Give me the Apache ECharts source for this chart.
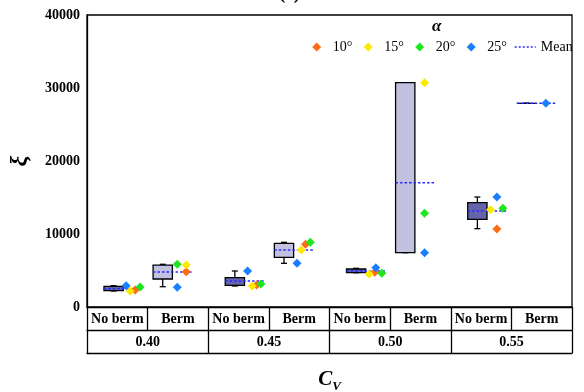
<!DOCTYPE html>
<html>
<head>
<meta charset="utf-8">
<script src="https://cdn.jsdelivr.net/npm/echarts@6/dist/echarts.min.js"></script>
<style>
  html, body { margin: 0; padding: 0; background: #fff; }
  #chart { width: 584px; height: 392px; }
</style>
</head>
<body>
<div id="chart"></div>
<script>
// Berm type within each coefficient-of-variation group
const categories = ['No berm', 'Berm', 'No berm', 'Berm', 'No berm', 'Berm', 'No berm', 'Berm'];
const cvLabels = ['0.40', '0.45', '0.50', '0.55'];
const angleNames = ['10°', '15°', '20°', '25°'];

// ξ for each slope angle α (null = no result)
const xi10 = [2330, 4840, 3014, 8589, 4750, null, 10685, null];
const xi15 = [2190, 5750, 2877, 7808, 4520, 30726, 13333, null];
const xi20 = [2740, 5850, 3150, 8863, 4610, 12836, 13516, null];
const xi25 = [2918, 2700, 4932, 5986, 5390, 7438, 15068, 27900];

// Box statistics per category
const boxLow  = [2190, 2780, 2877, 5986, 4700, 7438, 10731, 27900];
const boxQ1   = [2250, 3836, 2968, 6808, 4700, 7438, 12014, 27900];
const boxQ3   = [2830, 5750, 4014, 8726, 5205, 30726, 14292, 27900];
const boxHigh = [2918, 5850, 4932, 8863, 5300, 30726, 15068, 27900];
const boxMean = [2507, 4795, 3562, 7808, 4932, 17027, 13151, 27900];

// y-axis ticks
const yMin = 0, yMax = 40000, yStep = 10000;

// ---- layout / style ----
const FONT = "'Liberation Serif', 'Times New Roman', serif";
const BOX_W = 19.3;
const BOX_SHIFT = [-3.7, -15.2];          // px, box centre relative to band centre (No berm, Berm)
const MEAN_LEFT = 9.7, MEAN_RIGHT = 29.5;  // px, extent of the mean line around box centre
const CAP_W = 6;
const BOX_FILL = ['#6464aa', '#c3c1e1'];
const MEAN_COLOR = '#2a2aff';
const angleColors = ['#ff6a13', '#fbea00', '#1ee61e', '#1a7fff'];
// horizontal spread of the diamonds to the right of each box (px from box centre)
const pointSpread = [
  [21.5, 23.5, 21.7, 21.6, 18.7, 19.3, 19.5, 19.4],
  [16.5, 23.5, 17.3, 17.3, 13.0, 19.3, 13.2, 19.4],
  [26.5, 14.5, 26.0, 26.3, 25.7, 19.3, 25.5, 19.4],
  [12.5, 14.5, 12.7, 13.0, 19.7, 19.3, 19.5, 19.4]
];

const seriesValues = [xi10, xi15, xi20, xi25];

const boxData = categories.map((c, i) => [i, boxLow[i], boxQ1[i], boxQ3[i], boxHigh[i], boxMean[i]]);

function renderBox(params, api) {
  const i = api.value(0);
  const cx = api.coord([i, 0])[0] + BOX_SHIFT[i % 2];
  const y = v => api.coord([i, v])[1];
  const yLo = y(api.value(1)), yQ1 = y(api.value(2)), yQ3 = y(api.value(3));
  const yHi = y(api.value(4)), yMean = y(api.value(5));
  const stroke = { stroke: '#000', lineWidth: 1.3, fill: null };
  return {
    type: 'group',
    children: [
      { type: 'line', shape: { x1: cx, y1: yHi, x2: cx, y2: yQ3 }, style: stroke },
      { type: 'line', shape: { x1: cx, y1: yQ1, x2: cx, y2: yLo }, style: stroke },
      { type: 'line', shape: { x1: cx - CAP_W / 2, y1: yHi, x2: cx + CAP_W / 2, y2: yHi }, style: stroke },
      { type: 'line', shape: { x1: cx - CAP_W / 2, y1: yLo, x2: cx + CAP_W / 2, y2: yLo }, style: stroke },
      { type: 'rect', shape: { x: cx - BOX_W / 2, y: yQ3, width: BOX_W, height: yQ1 - yQ3 },
        style: { fill: BOX_FILL[i % 2], stroke: '#000', lineWidth: 1.3 } },
      { type: 'line', shape: { x1: cx - MEAN_LEFT, y1: yMean, x2: cx + MEAN_RIGHT, y2: yMean },
        style: { stroke: MEAN_COLOR, lineWidth: 1.5, lineDash: [2.5, 2] } }
    ]
  };
}

const scatterSeries = angleNames.map((name, k) => ({
  name: name,
  type: 'scatter',
  xAxisIndex: 0,
  symbol: 'diamond',
  symbolSize: 9,
  z: 3,
  itemStyle: { color: angleColors[k], opacity: 1 },
  data: seriesValues[k]
    .map((v, i) => v == null ? null : {
      value: [i, v],
      symbolOffset: [BOX_SHIFT[i % 2] + pointSpread[k][i], 0]
    })
    .filter(d => d !== null)
}));

const chart = echarts.init(document.getElementById('chart'), null, { renderer: 'canvas' });

const legendText = { fontFamily: FONT, fontSize: 14, color: '#000' };

chart.setOption({
  animation: false,
  backgroundColor: '#fff',
  title: [
    { text: '(c)', left: 279, top: -15, textStyle: { fontFamily: FONT, fontSize: 19, fontWeight: 'bold', color: '#000' }, padding: 0 },
    { text: 'α', left: 432, top: 18, textStyle: { fontFamily: FONT, fontSize: 17, fontWeight: 'bold', fontStyle: 'italic', color: '#000' }, padding: 0 }
  ],
  legend: [
    {
      data: angleNames,
      left: 312.2, top: 40, padding: 0,
      itemGap: 11.4, itemWidth: 9, itemHeight: 9,
      textStyle: Object.assign({ padding: [0, 0, 0, 6.5] }, legendText)
    },
    {
      data: ['Mean'],
      left: 514, top: 40, padding: 0,
      itemWidth: 21, itemHeight: 9,
      itemStyle: { opacity: 0 },
      lineStyle: { color: MEAN_COLOR, type: [2, 2], width: 1.5 },
      textStyle: legendText
    }
  ],
  grid: {
    left: 87, right: 12, top: 15, bottom: 85,
    containLabel: false, outerBoundsMode: 'none',
    show: true, borderColor: '#000', borderWidth: 1.3, backgroundColor: 'transparent'
  },
  xAxis: [
    {
      type: 'category', data: categories, position: 'bottom', boundaryGap: true,
      axisLine: { show: true, lineStyle: { color: '#000', width: 1.3 } },
      axisTick: { show: true, length: 23, interval: 0, lineStyle: { color: '#000', width: 1.3 } },
      axisLabel: { interval: 0, margin: 5, fontFamily: FONT, fontSize: 14, fontWeight: 'bold', color: '#000' },
      splitLine: { show: false }
    },
    {
      type: 'category', data: cvLabels, position: 'bottom', offset: 23, boundaryGap: true,
      axisLine: { show: true, lineStyle: { color: '#000', width: 1.3 } },
      axisTick: { show: true, length: 23, interval: 0, lineStyle: { color: '#000', width: 1.3 } },
      axisLabel: { interval: 0, margin: 5, fontFamily: FONT, fontSize: 14, fontWeight: 'bold', color: '#000' },
      splitLine: { show: false }
    },
    {
      type: 'category', data: cvLabels, position: 'bottom', offset: 46,
      axisLine: { show: true, lineStyle: { color: '#000', width: 1.3 } },
      axisTick: { show: false }, axisLabel: { show: false }, splitLine: { show: false },
      name: '{c|C}{v|V}', nameLocation: 'middle', nameGap: 16,
      nameTextStyle: {
        rich: {
          c: { fontFamily: FONT, fontSize: 21, fontWeight: 'bold', fontStyle: 'italic', color: '#000', lineHeight: 24, verticalAlign: 'top' },
          v: { fontFamily: FONT, fontSize: 13, fontWeight: 'bold', fontStyle: 'italic', color: '#000', lineHeight: 24, verticalAlign: 'top', padding: [11, 0, 0, 0] }
        }
      }
    }
  ],
  yAxis: {
    type: 'value', min: yMin, max: yMax, interval: yStep,
    name: 'ξ', nameLocation: 'middle', nameGap: 55, nameRotate: 90,
    nameTextStyle: { fontFamily: FONT, fontSize: 24, fontWeight: 'bold', fontStyle: 'italic', color: '#000' },
    axisLine: { show: true, lineStyle: { color: '#000', width: 1.3 } },
    axisTick: { show: false },
    axisLabel: { margin: 7, formatter: v => String(v), fontFamily: FONT, fontSize: 14, fontWeight: 'bold', color: '#000' },
    splitLine: { show: false }
  },
  series: [
    {
      name: 'box', type: 'custom', xAxisIndex: 0,
      renderItem: renderBox,
      encode: { x: 0, y: [1, 2, 3, 4, 5] },
      data: boxData, z: 2
    },
    ...scatterSeries,
    {
      name: 'Mean', type: 'line', xAxisIndex: 0, data: [], symbol: 'none', showSymbol: false,
      itemStyle: { color: MEAN_COLOR },
      lineStyle: { color: MEAN_COLOR, type: [2, 2], width: 1.5 }
    }
  ]
});
</script>
</body>
</html>
